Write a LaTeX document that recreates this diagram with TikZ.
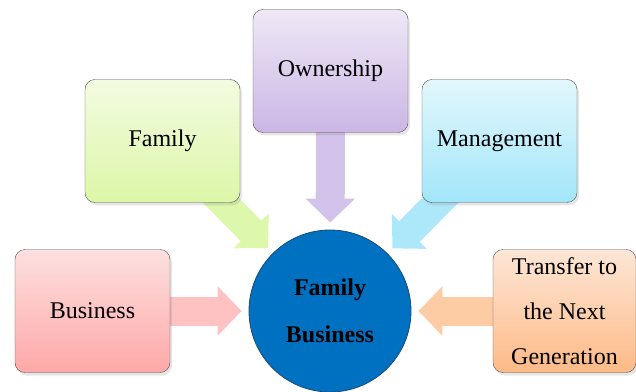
\documentclass[tikz,border=0pt]{standalone}
\usepackage{fontspec}
\setmainfont{Liberation Serif}
\usetikzlibrary{arrows.meta,shadows,backgrounds}

\definecolor{busTop}{HTML}{FDE0E0}
\definecolor{busBot}{HTML}{FFA8A8}
\definecolor{busArr}{HTML}{FFC2C2}
\definecolor{famTop}{HTML}{F4FBE2}
\definecolor{famBot}{HTML}{DBF7A6}
\definecolor{famArr}{HTML}{DDF8AC}
\definecolor{ownTop}{HTML}{EEE8F6}
\definecolor{ownBot}{HTML}{CBB6E5}
\definecolor{ownArr}{HTML}{D3C3EA}
\definecolor{mgtTop}{HTML}{E3F7FD}
\definecolor{mgtBot}{HTML}{A2E6FA}
\definecolor{mgtArr}{HTML}{ADE8FA}
\definecolor{genTop}{HTML}{FDE6D6}
\definecolor{genBot}{HTML}{FDBA86}
\definecolor{genArr}{HTML}{FDCBA4}
\definecolor{hubFill}{HTML}{0070C0}
\definecolor{hubLine}{HTML}{1C4A78}

\begin{document}
\begin{tikzpicture}[
            x=1pt,y=1pt,
            box/.style={draw=gray!65!black,rounded corners=10pt,
              minimum width=155pt,minimum height=123pt,align=center,
              font=\fontsize{24}{45}\selectfont,
              drop shadow={opacity=0.2,shadow xshift=2pt,shadow yshift=-3pt}},
            hub/.style={circle,draw=hubLine,fill=hubFill,line width=0.8pt,
              minimum size=162pt,align=center,
              font=\bfseries\fontsize{24}{47}\selectfont},
            feed/.style={line width=29pt,draw=#1,
              -{Triangle[width=48pt,length=24pt]},
              shorten <=-20pt,shorten >=7pt}
        ]
        \useasboundingbox (0,0) rectangle (636,391);
        \node[hub] (fb) at (330,80) {Family\\Business};
        \node[box,top color=busTop,bottom color=busBot] (bus) at (92.5,80) {Business};
        \node[box,top color=famTop,bottom color=famBot] (fam) at (162.5,250) {Family};
        \node[box,top color=ownTop,bottom color=ownBot] (own) at (330.5,320) {Ownership};
        \node[box,top color=mgtTop,bottom color=mgtBot] (mgt) at (499.5,250) {Management};
        \node[box,top color=genTop,bottom color=genBot,minimum width=143pt] (gen) at (564.5,80)
          {Transfer to\\the Next\\Generation};
        \begin{pgfonlayer}{background}
        \path (bus) edge[feed=busArr] (fb)
        (fam) edge[feed=famArr] (fb)
        (own) edge[feed=ownArr] (fb)
        (mgt) edge[feed=mgtArr] (fb)
        (gen) edge[feed=genArr] (fb);
        \end{pgfonlayer}
        \end{tikzpicture}
\end{document}
